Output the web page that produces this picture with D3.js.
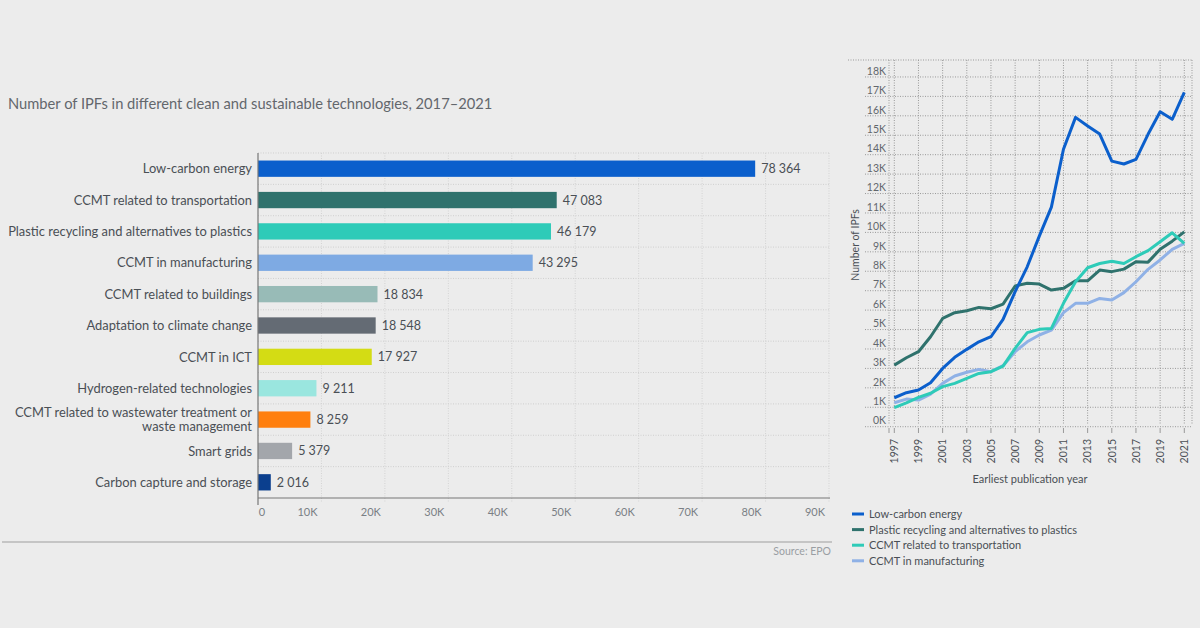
<!DOCTYPE html>
<html><head><meta charset="utf-8">
<script src="https://cdn.jsdelivr.net/npm/d3@7"></script>
<style>
html,body{margin:0;padding:0;background:#ececec;}
svg{display:block;font-family:Lato,"Open Sans",sans-serif;}
</style></head><body>
<svg id="c" width="1200" height="628"></svg>
<script>
// ---- Bar chart data ----
const barCategories = [
  "Low-carbon energy",
  "CCMT related to transportation",
  "Plastic recycling and alternatives to plastics",
  "CCMT in manufacturing",
  "CCMT related to buildings",
  "Adaptation to climate change",
  "CCMT in ICT",
  "Hydrogen-related technologies",
  "CCMT related to wastewater treatment or|waste management",
  "Smart grids",
  "Carbon capture and storage"
];
const barValues = [78364, 47083, 46179, 43295, 18834, 18548, 17927, 9211, 8259, 5379, 2016];
const barColors = ["#0b5fcc","#2f726d","#2ecbb8","#7eaae3","#98bbb7","#646b74","#d4dc14","#9ae6df","#ff7f0e","#a3a6ab","#0b3f8e"];
const barTicks = [0,10000,20000,30000,40000,50000,60000,70000,80000,90000];

// ---- Line chart data (thousands of IPFs) ----
const years = d3.range(1997, 2022);
const lowCarbon = [1.49,1.75,1.89,2.26,3.0,3.57,3.98,4.37,4.63,5.52,6.95,8.23,9.81,11.3,14.28,15.92,15.48,15.06,13.67,13.52,13.76,15.05,16.21,15.82,17.21];
const plastic   = [3.17,3.55,3.86,4.63,5.57,5.87,5.97,6.14,6.07,6.31,7.24,7.38,7.34,7.03,7.12,7.51,7.51,8.06,7.98,8.11,8.49,8.47,9.13,9.55,10.03];
const transport = [0.98,1.23,1.51,1.72,2.06,2.23,2.49,2.74,2.83,3.12,4.03,4.84,5.01,5.06,6.35,7.46,8.18,8.40,8.52,8.40,8.75,9.06,9.52,9.98,9.43];
const manufact  = [1.23,1.42,1.37,1.68,2.23,2.61,2.80,2.95,2.83,3.14,3.86,4.37,4.72,4.97,5.87,6.35,6.35,6.60,6.52,6.90,7.46,8.10,8.58,9.13,9.43];
const lineNames = ["Low-carbon energy","Plastic recycling and alternatives to plastics","CCMT related to transportation","CCMT in manufacturing"];
const lineColors = ["#0b5fcc","#2f726d","#2ecbb8","#8fb1e6"];
const lineSeries = [lowCarbon, plastic, transport, manufact];
const yTicksK = d3.range(0, 19);
const yearTicks = d3.range(1997, 2022, 2);

const svg = d3.select("#c");

// ---- Title ----
svg.append("text").attr("x", 8).attr("y", 109).attr("fill", "#63676c")
  .style("font-size", "14.7px").text("Number of IPFs in different clean and sustainable technologies, 2017\u20132021");

// ---- Bar chart ----
const x = d3.scaleLinear().domain([0, 90000]).range([258, 829]);
const y = d3.scaleBand().domain(barCategories).range([153, 498]).padding(0);
const g = svg.append("g");
const seps = barCategories.map(c => y(c));
g.selectAll(".hs").data(seps).join("line")
  .attr("x1", 258).attr("x2", 830).attr("y1", d => d).attr("y2", d => d)
  .attr("stroke", "#cfcfcf").attr("stroke-dasharray", "1,1.5");
g.selectAll(".vg").data(barTicks.slice(1)).join("line")
  .attr("x1", d => x(d)).attr("x2", d => x(d)).attr("y1", 153).attr("y2", 503)
  .attr("stroke", "#d3d3d3").attr("stroke-dasharray", "1,1.5");
// bars
const bh = y.bandwidth() * 0.52;
g.selectAll(".bar").data(barValues).join("rect")
  .attr("x", x(0)).attr("y", (d, i) => y(barCategories[i]) + (y.bandwidth() - bh) / 2)
  .attr("width", d => x(d) - x(0)).attr("height", bh)
  .attr("fill", (d, i) => barColors[i]);
// value labels
g.selectAll(".val").data(barValues).join("text")
  .attr("x", d => x(d) + 6).attr("y", (d, i) => y(barCategories[i]) + y.bandwidth() / 2)
  .attr("dy", "0.36em").attr("fill", "#4a4f55").style("font-size", "12.5px")
  .text(d => d3.format(",")(d).replace(/,/g, " "));
// category labels
barCategories.forEach((c, i) => {
  const parts = c.split("|");
  const cy = y(c) + y.bandwidth() / 2;
  const t = g.append("text").attr("x", 252).attr("text-anchor", "end")
    .attr("fill", "#4a4f55").style("font-size", "12.9px");
  parts.forEach((p, j) => {
    t.append("tspan").attr("x", 252)
      .attr("y", cy + (j - (parts.length - 1) / 2) * 14).attr("dy", "0.36em").text(p);
  });
});
// axes
g.append("line").attr("x1", 258).attr("x2", 830).attr("y1", 498).attr("y2", 498).attr("stroke", "#777").attr("stroke-width", 1.2);
g.append("line").attr("x1", 258).attr("x2", 258).attr("y1", 153).attr("y2", 505).attr("stroke", "#777").attr("stroke-width", 1.2);
g.selectAll(".xt").data(barTicks).join("text")
  .attr("x", d => d === 0 ? x(d) + 4 : x(d) - 14).attr("y", 512).attr("dy", "0.36em")
  .attr("text-anchor", "middle").attr("fill", "#7a7f85").style("font-size", "11px")
  .text(d => d === 0 ? "0" : (d / 1000) + "K");
// separator + source
svg.append("line").attr("x1", 2).attr("x2", 832).attr("y1", 542).attr("y2", 542).attr("stroke", "#b8b8b8").attr("stroke-width", 1.6);
svg.append("text").attr("x", 831).attr("y", 555).attr("text-anchor", "end").attr("fill", "#9a9ea3")
  .style("font-size", "10.5px").text("Source: EPO");

// ---- Line chart ----
const lx = d3.scaleLinear().domain([1997, 2021]).range([894.3, 1184.3]);
const ly = d3.scaleLinear().domain([0, 10]).range([426.7, 232.4]);
const lg = svg.append("g");
lg.append("line").attr("x1", 848).attr("x2", 1192).attr("y1", 60).attr("y2", 60).attr("stroke", "#999").attr("stroke-dasharray", "1,1.5");
lg.selectAll(".hy").data(yTicksK).join("line")
  .attr("x1", 865).attr("x2", 1192).attr("y1", d => ly(d)).attr("y2", d => ly(d))
  .attr("stroke", "#999").attr("stroke-dasharray", "1,1.5");
lg.selectAll(".vy").data(yearTicks).join("line")
  .attr("x1", d => lx(d)).attr("x2", d => lx(d)).attr("y1", 60).attr("y2", 424)
  .attr("stroke", "#999").attr("stroke-dasharray", "1,1.5");
[889, 1192].forEach(xx => lg.append("line").attr("x1", xx).attr("x2", xx).attr("y1", 60).attr("y2", 424)
  .attr("stroke", "#999").attr("stroke-dasharray", "1,1.5"));
// tick marks
lg.selectAll(".tm").data(yearTicks).join("line")
  .attr("x1", d => lx(d)).attr("x2", d => lx(d)).attr("y1", 428).attr("y2", 433).attr("stroke", "#999");
lg.append("line").attr("x1", 889).attr("x2", 889).attr("y1", 428).attr("y2", 433).attr("stroke", "#999");
// y labels
lg.selectAll(".yl").data(yTicksK).join("text")
  .attr("x", 886).attr("y", d => ly(d) - 6).attr("dy", "0.36em").attr("text-anchor", "end")
  .attr("fill", "#62676d").style("font-size", "10.5px").text(d => d + "K");
// year labels
lg.selectAll(".xl").data(yearTicks).join("text")
  .attr("transform", d => `translate(${lx(d)},439) rotate(-90)`)
  .attr("text-anchor", "end").attr("dy", "0.36em")
  .attr("fill", "#4a4f55").style("font-size", "10.5px").text(d => d);
lg.append("text").attr("x", 1030).attr("y", 479).attr("dy", "0.36em").attr("text-anchor", "middle")
  .attr("fill", "#4a4f55").style("font-size", "11px").text("Earliest publication year");
lg.append("text").attr("transform", "translate(855,245) rotate(-90)").attr("text-anchor", "middle")
  .attr("dy", "0.36em").attr("fill", "#4a4f55").style("font-size", "10.5px").text("Number of IPFs");
// lines
const line = d3.line().x((d, i) => lx(years[i])).y(d => ly(d));
const order = [3, 1, 2, 0];
order.forEach(k => {
  lg.append("path").datum(lineSeries[k]).attr("d", line).attr("fill", "none")
    .attr("stroke", lineColors[k]).attr("stroke-width", 3).attr("stroke-linejoin", "round");
});
// legend
lineNames.forEach((n, i) => {
  const yy = 514 + i * 15.6;
  lg.append("line").attr("x1", 852).attr("x2", 864).attr("y1", yy).attr("y2", yy)
    .attr("stroke", lineColors[i]).attr("stroke-width", 3);
  lg.append("text").attr("x", 869).attr("y", yy).attr("dy", "0.36em")
    .attr("fill", "#4a4f55").style("font-size", "11px").text(n);
});
</script>
</body></html>
